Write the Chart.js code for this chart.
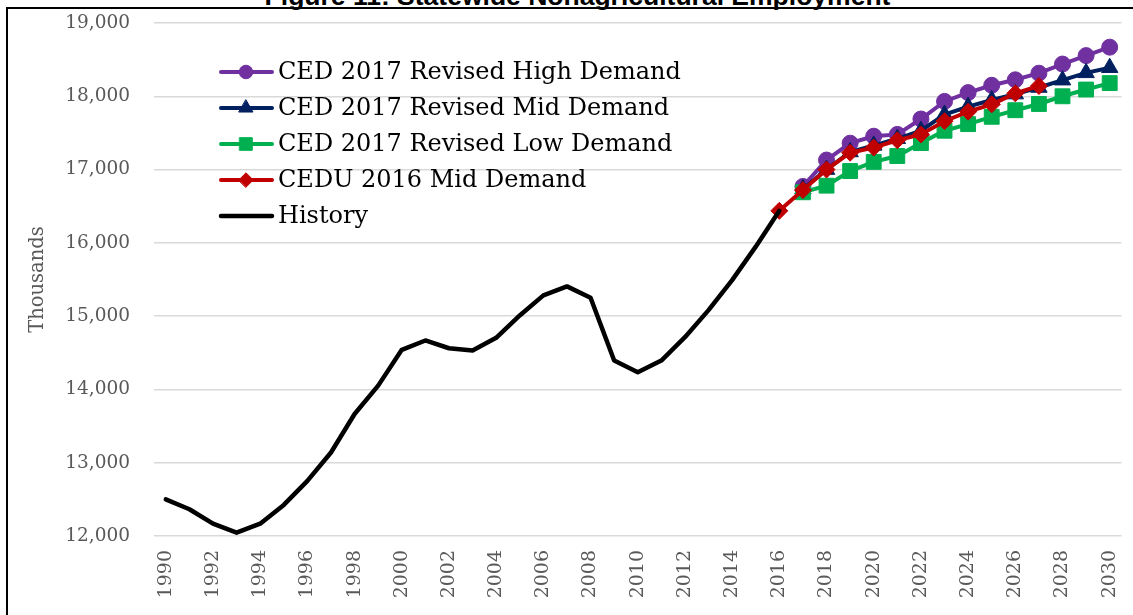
<!DOCTYPE html>
<html>
<head>
<meta charset="utf-8">
<script src="https://cdn.jsdelivr.net/npm/chart.js@4.4.0/dist/chart.umd.min.js"></script>
<style>
  html, body { margin: 0; padding: 0; background: #fff; overflow: hidden; }
  #wrap { position: relative; width: 1133px; height: 615px; overflow: hidden; }
  #frame { position: absolute; left: 6px; top: 7px; width: 1200px; height: 700px; border: 2px solid #000; }
  #title { position: absolute; left: 0; width: 1155px; top: -17px; text-align: center;
           font: bold 26.5px/1 "Liberation Sans", Arial, sans-serif; color: #000; }
  #chart { position: absolute; left: 0; top: 0; }
</style>
</head>
<body>
<div id="wrap">
  <div id="frame"></div>
  <div id="title">Figure 11: Statewide Nonagricultural Employment</div>
  <canvas id="chart" width="1133" height="615"></canvas>
</div>
<script>
// categories (years) and the ones that get a tick label
var years = [
  "1990", "1991", "1992", "1993", "1994", "1995", "1996", "1997", "1998", "1999",
  "2000", "2001", "2002", "2003", "2004", "2005", "2006", "2007", "2008", "2009",
  "2010", "2011", "2012", "2013", "2014", "2015", "2016", "2017", "2018", "2019",
  "2020", "2021", "2022", "2023", "2024", "2025", "2026", "2027", "2028", "2029", "2030"
];
var labeledYears = [
  "1990", "1992", "1994", "1996", "1998", "2000", "2002", "2004", "2006", "2008",
  "2010", "2012", "2014", "2016", "2018", "2020", "2022", "2024", "2026", "2028", "2030"
];

// history 1990-2016 (thousands)
var historyStart = "1990";
var historyValues = [
  12500, 12365, 12168, 12045, 12168, 12424, 12752, 13140, 13665, 14052,
  14540, 14668, 14562, 14531, 14704, 15010, 15283, 15406, 15252, 14394,
  14234, 14394, 14713, 15082, 15492, 15948, 16437
];

// CED 2017 revised forecasts, 2017-2030
var cedStart = "2017";
var cedHigh = [16770, 17130, 17360, 17455, 17480, 17690, 17930, 18050, 18150, 18225, 18315, 18440, 18555, 18670];
var cedMid  = [16735, 17000, 17240, 17330, 17420, 17530, 17750, 17860, 17950, 18030, 18120, 18220, 18320, 18390];
var cedLow  = [16690, 16780, 16980, 17105, 17185, 17362, 17530, 17620, 17720, 17810, 17895, 18000, 18092, 18180];

// CEDU 2016 mid demand, 2016-2027
var ceduStart = "2016";
var ceduMid = [16437, 16720, 17000, 17230, 17300, 17400, 17480, 17660, 17790, 17890, 18040, 18140];

var yTicks = [12000, 13000, 14000, 15000, 16000, 17000, 18000, 19000];

function place(startYear, values) {
  var out = years.map(function () { return null; });
  var s = years.indexOf(startYear);
  values.forEach(function (v, i) { out[s + i] = v; });
  return out;
}

var serif = "'DejaVu Serif', 'Liberation Serif', serif";

// legend drawn inside the plot, top-left, the way the original sits
var insideLegend = {
  id: "insideLegend",
  afterDraw: function (chart) {
    var ctx = chart.ctx;
    var rows = [72, 108, 144, 180, 216];
    ctx.save();
    chart.data.datasets.forEach(function (ds, i) {
      var y = rows[i];
      ctx.strokeStyle = ds.borderColor;
      ctx.lineWidth = ds.borderWidth;
      ctx.lineCap = "round";
      ctx.beginPath();
      ctx.moveTo(221, y);
      ctx.lineTo(272, y);
      ctx.stroke();
      if (ds.pointRadius > 0) {
        ctx.fillStyle = ds.pointBackgroundColor;
        ctx.strokeStyle = ds.pointBorderColor;
        ctx.lineWidth = 1;
        Chart.helpers.drawPoint(ctx, { pointStyle: ds.pointStyle, radius: ds.legendRadius, borderWidth: 1 }, 246, y);
      }
      ctx.fillStyle = "#000";
      ctx.font = "24px " + serif;
      ctx.textBaseline = "middle";
      ctx.textAlign = "left";
      ctx.fillText(ds.label, 278, y + 1);
    });
    ctx.restore();
  }
};

function series(label, color, values, start, style, radius, order) {
  return {
    label: label,
    data: place(start, values),
    borderColor: color,
    backgroundColor: color,
    pointBackgroundColor: color,
    pointBorderColor: color,
    borderWidth: 4,
    pointStyle: style,
    pointRadius: radius,
    legendRadius: radius * 0.85,
    pointBorderWidth: 1,
    tension: 0,
    order: order
  };
}

var datasets = [
  series("CED 2017 Revised High Demand", "#7030A0", cedHigh, cedStart, "circle", 8, 5),
  series("CED 2017 Revised Mid Demand", "#002060", cedMid, cedStart, "triangle", 9.5, 4),
  series("CED 2017 Revised Low Demand", "#00B050", cedLow, cedStart, "rect", 10.5, 3),
  series("CEDU 2016 Mid Demand", "#C00000", ceduMid, ceduStart, "rectRot", 8.5, 2),
  {
    label: "History",
    data: place(historyStart, historyValues),
    borderColor: "#000000",
    backgroundColor: "#000000",
    borderWidth: 4.5,
    borderCapStyle: "round",
    borderJoinStyle: "round",
    pointRadius: 0,
    tension: 0,
    order: 1
  }
];

new Chart(document.getElementById("chart"), {
  type: "line",
  data: { labels: years, datasets: datasets },
  options: {
    responsive: false,
    animation: false,
    layout: { padding: { left: 0, right: 6, top: 23, bottom: 0 } },
    plugins: {
      legend: { display: false },
      tooltip: { enabled: false }
    },
    scales: {
      x: {
        offset: true,
        grid: { display: false, drawTicks: false, offset: true },
        border: { display: false },
        afterFit: function (scale) {
          scale.height = 79;
          scale.paddingLeft = 0;
          scale.paddingRight = 0;
        },
        ticks: {
          autoSkip: false,
          maxRotation: 90,
          minRotation: 90,
          padding: 14,
          color: "#595959",
          font: { family: serif, size: 19 },
          callback: function (value, index) {
            var y = years[index];
            return labeledYears.indexOf(y) >= 0 ? y : "";
          }
        }
      },
      y: {
        min: 12000,
        max: 19000,
        afterFit: function (scale) {
          scale.width = 154;
          scale.paddingTop = 0;
          scale.paddingBottom = 0;
        },
        afterBuildTicks: function (scale) {
          scale.ticks = yTicks.map(function (v) { return { value: v }; });
        },
        grid: { color: "#D9D9D9", lineWidth: 1.5, drawTicks: false },
        border: { display: false },
        ticks: {
          padding: 24,
          color: "#595959",
          font: { family: serif, size: 18.5 },
          callback: function (v) { return Number(v).toLocaleString("en-US"); }
        },
        title: {
          display: true,
          text: "Thousands",
          color: "#595959",
          font: { family: serif, size: 19.5 },
          padding: { top: 26, bottom: 0 }
        }
      }
    }
  },
  plugins: [insideLegend]
});
</script>
</body>
</html>
